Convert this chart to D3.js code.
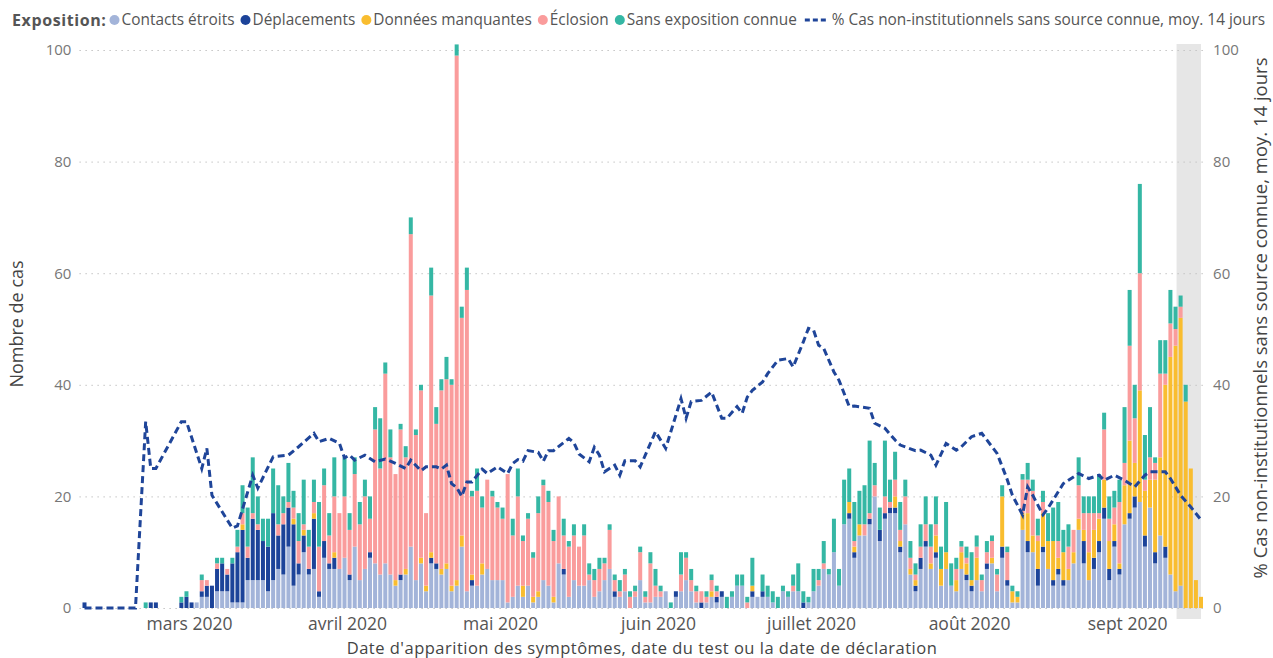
<!DOCTYPE html>
<html>
<head>
<meta charset="utf-8">
<script src="https://cdn.jsdelivr.net/npm/d3@7"></script>
<style>
  body { margin: 0; background: #fff; }
  svg { font-family: "Segoe UI", "Open Sans", sans-serif; }
</style>
</head>
<body>
<svg width="1273" height="658"></svg>
<script>
// one value per day, from 2020-02-09 to 2020-09-15
const firstDay = Date.UTC(2020, 1, 9);

const seriesNames = ["Contacts étroits", "Déplacements", "Données manquantes", "Éclosion", "Sans exposition connue"];
const seriesColors = ["#a3b4d9", "#1c4399", "#f9bd2f", "#fa9c9c", "#35b7a4"];
const lineName = "% Cas non-institutionnels sans source connue, moy. 14 jours";
const monthLabels = ["mars 2020", "avril 2020", "mai 2020", "juin 2020", "juillet 2020", "août 2020", "sept 2020"];

const contacts = [
  0,0,0,0,0,0,0,0,0,0,0,0,0,0,0,0,0,0,0,0,0,
  0,1,2,2,0,3,3,3,1,1,1,5,5,5,5,3,5,7,6,11,4,6,10,6,7,2,9,7,7,7,9,
  5,11,5,7,9,8,6,8,6,4,5,6,11,5,8,3,8,7,6,7,3,4,11,3,4,4,6,7,5,5,
  5,1,2,4,2,4,1,2,5,4,1,8,6,2,5,4,4,5,2,3,5,7,2,2,3,0,2,5,1,1,2,
  2,3,0,2,3,5,3,1,0,1,2,1,2,0,2,4,4,0,2,2,2,2,1,0,3,2,3,3,0,1,
  3,4,7,6,10,4,15,16,9,13,13,15,20,12,16,17,17,10,15,6,3,7,11,7,9,4,7,4,3,7,5,
  3,5,3,7,8,3,9,4,1,1,14,10,10,4,10,7,4,6,4,5,8,14,8,5,7,10,16,5,11,6,15,
  16,18,19,11,18,8,13,9,6,3,4,0,0,0,0
];
const travel = [
  1,0,0,0,0,0,0,0,0,0,0,0,0,1,1,0,0,0,0,1,2,
  1,0,1,2,4,4,5,3,7,9,13,4,11,9,7,8,12,6,9,7,11,2,3,1,9,1,3,1,2,0,0,
  1,0,0,0,1,0,0,0,0,0,1,0,0,0,0,0,1,1,0,0,0,0,0,0,1,0,0,0,0,0,
  0,0,0,0,0,0,0,0,0,0,0,0,1,0,0,0,0,0,0,0,0,0,1,0,0,0,0,0,0,0,0,
  0,0,0,1,0,0,0,0,1,0,0,1,1,0,0,0,0,0,1,0,1,0,0,0,0,0,0,0,1,0,
  0,0,0,0,0,0,0,1,1,0,0,1,0,2,1,1,1,1,0,0,1,2,1,0,1,0,0,0,0,0,1,
  1,0,0,1,0,0,2,1,0,0,0,2,0,3,1,0,1,1,1,0,0,0,4,0,2,2,2,2,1,1,0,
  1,2,0,2,0,2,0,2,0,0,0,0,0,0,0
];
const missing = [
  0,0,0,0,0,0,0,0,0,0,0,0,0,0,0,0,0,0,0,0,0,
  0,0,0,0,0,0,0,0,0,0,1,0,0,0,0,0,0,0,0,0,1,0,1,0,1,0,0,0,1,0,0,
  0,0,0,0,0,0,0,0,0,1,0,1,0,0,1,1,1,0,1,1,1,1,2,0,1,0,2,0,0,0,
  0,0,0,0,2,0,1,1,0,0,1,0,0,0,0,0,0,0,0,0,0,0,0,0,0,0,0,0,0,0,0,
  0,0,0,0,0,0,0,0,0,0,1,0,0,0,0,0,0,0,1,0,0,0,0,0,0,0,0,0,0,0,
  0,0,0,0,0,0,0,2,1,2,0,0,0,0,0,0,2,1,0,1,1,0,0,1,3,3,3,0,2,3,2,
  1,4,0,0,1,0,9,0,2,1,3,5,3,5,6,5,7,2,5,2,2,2,2,5,5,4,5,5,3,1,7,
  13,6,20,8,5,13,14,29,39,44,48,37,25,5,2
];
const outbreak = [
  0,0,0,0,0,0,0,0,0,0,0,0,0,0,0,0,0,0,0,0,0,
  0,0,2,1,0,1,0,1,0,1,2,2,1,1,0,0,0,2,2,1,2,4,1,4,2,8,10,5,10,10,11,
  8,13,10,13,6,24,19,34,21,19,26,20,56,26,30,13,46,25,32,33,36,94,39,54,14,17,10,16,15,13,
  11,23,11,16,8,12,7,14,17,15,10,12,6,9,8,7,9,1,3,4,3,7,2,1,3,2,1,5,1,7,2,
  1,0,0,0,3,4,2,2,2,1,2,1,0,0,0,0,0,1,0,0,0,0,0,0,0,0,1,0,0,0,
  0,1,1,0,0,0,0,0,1,0,2,1,2,0,3,1,3,2,5,2,1,2,3,3,2,0,0,0,2,1,1,
  0,2,2,2,3,3,0,5,0,0,6,6,8,1,2,0,0,3,0,4,4,6,3,7,3,1,9,4,3,11,4,
  17,8,21,2,4,3,15,2,6,3,2,0,0,0,0
];
const unknown = [
  0,0,0,0,0,0,0,0,0,0,0,0,1,0,0,0,0,0,0,1,1,
  0,0,1,0,0,1,1,0,1,3,5,7,10,5,4,5,8,7,3,7,3,5,8,3,4,8,3,4,7,0,7,
  3,3,4,3,4,4,9,2,5,0,1,2,3,1,1,0,5,3,2,4,1,2,2,4,1,4,2,0,1,1,
  2,0,3,5,1,1,1,3,1,2,2,0,3,1,2,0,2,2,2,2,1,1,1,2,1,1,1,1,1,2,3,
  1,0,1,0,4,1,2,1,0,1,1,1,0,2,1,2,2,1,5,0,3,2,2,2,1,1,2,5,2,1,
  4,2,4,1,6,3,8,6,7,6,7,13,4,4,10,4,5,5,3,3,2,4,5,4,5,4,9,4,2,1,2,
  5,2,1,2,1,1,2,1,1,1,1,3,2,3,2,5,6,7,4,4,0,5,3,3,3,7,3,4,3,4,10,
  10,6,16,8,9,1,6,6,6,4,2,3,0,0,0
];

// 14-day average line: day index (from 2020-02-09) and percentage
const lineDay = [0,10,12,13,14,19,20,23,24,25,29,30,33,34,37,40,42,45,46,48,50,51,52,53,55,57,59,61,63,64,
  66,67,69,70,71,72,73,74,75,76,78,79,81,83,84,85,86,87,89,90,91,92,95,96,97,99,100,101,102,104,
  105,106,108,109,112,114,117,118,119,121,123,125,126,128,129,130,131,133,134,136,138,139,141,142,143,144,145,147,148,150,
  151,154,155,157,159,160,163,164,166,167,169,171,172,174,176,178,179,181,182,184,185,186,188,189,192,195,197,199,200,202,
  204,206,208,209,212,213,215,217,219];
const linePct = [0,0,33.4,25,25,33.4,33.4,25,28.6,20.2,14.3,14.7,23.8,21.5,27.1,27.4,28.9,31.3,29.8,30.4,29.5,26.9,27.4,26.5,27.4,26.2,26.7,25.9,25.0,26.5,
  24.6,25.3,25.3,24.9,25.6,22.3,21.6,20.0,22.6,22.6,24.9,24.1,25.3,24.1,25.9,26.6,26.3,28.2,27.9,26.3,28.2,28.2,30.4,29.6,27.6,26.2,28.8,27.4,24.4,25.6,
  23.8,26.4,26.4,25.3,31.6,28.6,37.5,34.0,37.0,37.2,38.7,34.0,34.0,36.1,34.9,37.8,39.0,40.5,42.0,44.4,44.7,43.2,47.7,50.1,49.8,47.1,46.5,42.3,40.8,36.1,
  36.2,35.8,33.1,32.2,30.1,29.2,28.2,28.3,27.4,25.6,29.5,28.3,28.9,30.7,31.3,28.9,27.7,23.0,20.2,16.7,21.7,20.2,16.7,17.9,22.3,24.1,23.2,23.8,22.9,23.8,
  22.9,21.7,23.8,24.4,24.4,23.2,20.2,18.1,15.8];

// shaded period at the end (incomplete data)
const shadeStart = Date.UTC(2020, 8, 10, 17);
const shadeEnd = Date.UTC(2020, 8, 15, 12);

const svg = d3.select("svg");
const plotLeft = 79.4, plotRight = 1206.1, plotTop = 50, plotBottom = 608;

const keys = ["c", "t", "m", "o", "u"];
const rows = contacts.map((v, i) => ({
  date: d3.utcDay.offset(new Date(firstDay), i),
  c: v, t: travel[i], m: missing[i], o: outbreak[i], u: unknown[i]
}));

const x = d3.scaleUtc()
  .domain([Date.UTC(2020, 1, 8, 12), Date.UTC(2020, 8, 16, 12)])
  .range([plotLeft, plotRight]);
const y = d3.scaleLinear().domain([0, 100]).range([plotBottom, plotTop]);
const yR = d3.scaleLinear().domain([0, 100]).range([plotBottom, plotTop]);
const mid = d => x(d3.utcHour.offset(d, 12));

// shaded band
svg.append("rect")
  .attr("x", x(shadeStart)).attr("width", x(shadeEnd) - x(shadeStart))
  .attr("y", 44).attr("height", 575)
  .attr("fill", "#e6e6e6");

// grid
svg.append("g").selectAll("line").data(y.ticks(5)).enter().append("line")
  .attr("x1", plotLeft).attr("x2", plotRight - 2)
  .attr("y1", d => y(d) + 0.5).attr("y2", d => y(d) + 0.5)
  .attr("stroke", "#c4c4c4").attr("stroke-dasharray", "1.5,4.5");

// stacked bars
const stacked = d3.stack().keys(keys)(rows);
const barW = 4;
svg.append("g").selectAll("g").data(stacked).enter().append("g")
  .attr("fill", (d, k) => seriesColors[k])
  .selectAll("rect").data(d => d.filter(p => p[1] > p[0])).enter().append("rect")
  .attr("x", p => mid(p.data.date) - barW / 2)
  .attr("width", barW)
  .attr("y", p => y(p[1]))
  .attr("height", p => y(p[0]) - y(p[1]));

// line
const line = d3.line()
  .x((d, i) => mid(d3.utcDay.offset(new Date(firstDay), lineDay[i])))
  .y(d => yR(d));
svg.append("path").datum(linePct)
  .attr("d", line)
  .attr("fill", "none")
  .attr("stroke", "#1f4599")
  .attr("stroke-width", 3)
  .attr("stroke-dasharray", "7,4");

// axes
const yAxis = svg.append("g").attr("transform", `translate(${plotLeft},0)`)
  .call(d3.axisLeft(y).tickValues([0, 20, 40, 60, 80, 100]).tickSize(0).tickPadding(8));
const yAxisR = svg.append("g").attr("transform", `translate(${plotRight},0)`)
  .call(d3.axisRight(yR).tickValues([0, 20, 40, 60, 80, 100]).tickSize(0).tickPadding(7));
[yAxis, yAxisR].forEach(g => {
  g.select(".domain").remove();
  g.selectAll("text").attr("fill", "#777").attr("font-size", 15)
    .attr("font-family", "\"Segoe UI\", \"Open Sans\", sans-serif");
});

const months = d3.utcMonths(Date.UTC(2020, 2, 1), Date.UTC(2020, 9, 1));
const xAxis = svg.append("g").attr("transform", `translate(0,${plotBottom})`)
  .call(d3.axisBottom(x).tickValues(months).tickSize(0).tickPadding(9.5)
    .tickFormat((d, i) => monthLabels[i]));
xAxis.select(".domain").remove();
xAxis.selectAll("text").attr("fill", "#555").attr("font-size", 17.5)
  .attr("font-family", "\"Segoe UI\", \"Open Sans\", sans-serif");

// axis titles
svg.append("text")
  .attr("x", 642).attr("y", 654)
  .attr("text-anchor", "middle").attr("font-size", 16.5).attr("letter-spacing", 0.5)
  .attr("fill", "#444")
  .text("Date d'apparition des symptômes, date du test ou la date de déclaration");
svg.append("text")
  .attr("transform", "translate(23,324) rotate(-90)")
  .attr("text-anchor", "middle").attr("font-size", 18).attr("fill", "#444")
  .text("Nombre de cas");
svg.append("text")
  .attr("transform", "translate(1267,318) rotate(-90)")
  .attr("text-anchor", "middle").attr("font-size", 18.5).attr("fill", "#444")
  .text(lineName);

// legend
const legend = svg.append("g").attr("transform", "translate(0,20)")
  .attr("font-size", 15.4).attr("fill", "#555");
let cx = 12;
const head = legend.append("text").attr("x", cx).attr("dy", "0.35em")
  .attr("font-weight", "bold").attr("font-size", 16).attr("letter-spacing", 0.6)
  .text("Exposition:");
cx += head.node().getComputedTextLength() + 3;
seriesNames.forEach((n, k) => {
  legend.append("circle").attr("cx", cx + 5).attr("cy", 0).attr("r", 5).attr("fill", seriesColors[k]);
  const t = legend.append("text").attr("x", cx + 12).attr("dy", "0.35em").text(n);
  cx += 12 + t.node().getComputedTextLength() + 6;
});
legend.append("line")
  .attr("x1", cx + 2).attr("x2", cx + 24).attr("y1", 0).attr("y2", 0)
  .attr("stroke", "#1f4599").attr("stroke-width", 3).attr("stroke-dasharray", "5,3");
legend.append("text").attr("x", cx + 29).attr("dy", "0.35em").text(lineName);
</script>
</body>
</html>
